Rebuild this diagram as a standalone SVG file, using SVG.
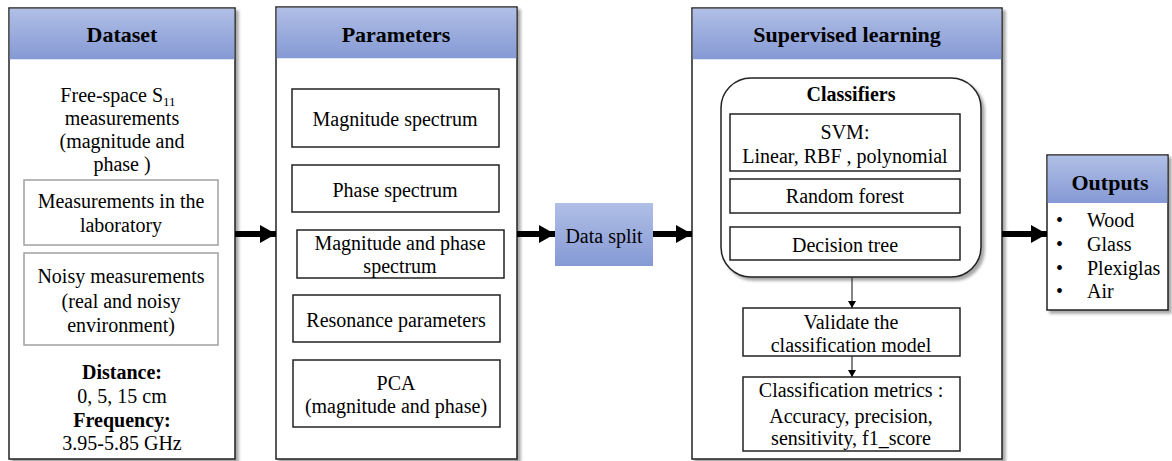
<svg xmlns="http://www.w3.org/2000/svg" width="1172" height="461" viewBox="0 0 1172 461">
<defs>
  <linearGradient id="hdr" x1="0" y1="0" x2="0" y2="1">
    <stop offset="0" stop-color="#b0bfe6"/>
    <stop offset="1" stop-color="#8599d4"/>
  </linearGradient>
  <filter id="sh" x="-5%" y="-5%" width="115%" height="115%">
    <feDropShadow dx="3" dy="3" stdDeviation="1.8" flood-color="#000" flood-opacity="0.35"/>
  </filter>
  <marker id="big" markerUnits="userSpaceOnUse" markerWidth="18" markerHeight="20" refX="16" refY="10" orient="auto">
    <path d="M0,1 L16,10 L0,19 Z" fill="#000"/>
  </marker>
  <marker id="small" markerUnits="userSpaceOnUse" markerWidth="8" markerHeight="8" refX="4" refY="7" orient="0">
    <path d="M0,0 L8,0 L4,7 Z" fill="#000"/>
  </marker>
</defs>
<style>
  text { font-family: "Liberation Serif", "Times New Roman", serif; fill: #000; }
  .t { font-size: 20px; text-anchor: middle; }
  .h { font-size: 22px; font-weight: bold; text-anchor: middle; }
  .b { font-size: 20px; font-weight: bold; text-anchor: middle; }
  .frame { fill: #fff; stroke: #222; stroke-width: 1.5; }
  .hd { fill: url(#hdr); }
  .gbox { fill: #fff; stroke: #a0a0a0; stroke-width: 1.5; }
  .kbox { fill: #fff; stroke: #222; stroke-width: 1.5; }
  .thick { stroke: #000; stroke-width: 6; fill: none; }
  .thin { stroke: #333; stroke-width: 1.2; fill: none; }
</style>

<g id="dataset">
  <rect class="frame" x="9" y="8" width="226" height="451" filter="url(#sh)"/>
  <rect class="hd" x="9.75" y="8.75" width="224.5" height="50.5"/>
  <text class="h" x="122" y="42">Dataset</text>
  <text class="t" x="118" y="102">Free-space S<tspan font-size="13" dy="4">11</tspan></text>
  <text class="t" x="122" y="125">measurements</text>
  <text class="t" x="122" y="148">(magnitude and</text>
  <text class="t" x="122" y="171">phase )</text>
  <rect class="gbox" x="24" y="180" width="194" height="65"/>
  <text class="t" x="121" y="208">Measurements in the</text>
  <text class="t" x="121" y="232">laboratory</text>
  <rect class="gbox" x="24" y="253" width="194" height="92"/>
  <text class="t" x="121" y="283">Noisy measurements</text>
  <text class="t" x="121" y="308">(real and noisy</text>
  <text class="t" x="121" y="332">environment)</text>
  <text class="b" x="122" y="379">Distance:</text>
  <text class="t" x="122" y="403">0, 5, 15 cm</text>
  <text class="b" x="122" y="427">Frequency:</text>
  <text class="t" x="122" y="450">3.95-5.85 GHz</text>
</g>

<g id="parameters">
  <rect class="frame" x="276" y="7" width="241" height="452" filter="url(#sh)"/>
  <rect class="hd" x="276.75" y="7.75" width="239.5" height="50.5"/>
  <text class="h" x="396" y="42">Parameters</text>
  <rect class="kbox" x="292" y="89" width="207" height="58"/>
  <text class="t" x="395" y="126">Magnitude spectrum</text>
  <rect class="kbox" x="292" y="165" width="207" height="47"/>
  <text class="t" x="395" y="197">Phase spectrum</text>
  <rect class="kbox" x="297" y="230" width="207" height="48"/>
  <text class="t" x="400" y="250">Magnitude and phase</text>
  <text class="t" x="400" y="273">spectrum</text>
  <rect class="kbox" x="293" y="295" width="207" height="47"/>
  <text class="t" x="396" y="327">Resonance parameters</text>
  <rect class="kbox" x="293" y="360" width="207" height="67"/>
  <text class="t" x="396" y="390">PCA</text>
  <text class="t" x="396" y="413">(magnitude and phase)</text>
</g>

<g id="datasplit">
  <rect x="555" y="203" width="98" height="63" fill="url(#hdr)"/>
  <text class="t" x="604" y="243">Data split</text>
</g>

<g id="supervised">
  <rect class="frame" x="692" y="8" width="310" height="451" filter="url(#sh)"/>
  <rect class="hd" x="692.75" y="8.75" width="308.5" height="50.5"/>
  <text class="h" x="847" y="42">Supervised  learning</text>
</g>

<g id="classifiers">
  <rect class="kbox" x="721" y="78" width="260" height="199" rx="30" ry="30" filter="url(#sh)"/>
  <text class="b" x="851" y="101">Classifiers</text>
</g>
<g id="svm">
  <rect class="kbox" x="730" y="114" width="230" height="57"/>
  <text class="t" x="845" y="139">SVM:</text>
  <text class="t" x="845" y="163">Linear, RBF , polynomial</text>
</g>
<g id="randomforest">
  <rect class="kbox" x="730" y="179" width="230" height="34"/>
  <text class="t" x="845" y="203">Random forest</text>
</g>
<g id="decisiontree">
  <rect class="kbox" x="730" y="227" width="230" height="33"/>
  <text class="t" x="845" y="252">Decision tree</text>
</g>
<g id="validate">
  <rect class="kbox" x="743" y="308" width="217" height="48"/>
  <text class="t" x="851" y="329">Validate the</text>
  <text class="t" x="851" y="352">classification model</text>
</g>
<g id="metrics">
  <rect class="kbox" x="743" y="377" width="217" height="74"/>
  <text class="t" x="851" y="397">Classification metrics :</text>
  <text class="t" x="851" y="423">Accuracy, precision,</text>
  <text class="t" x="851" y="445">sensitivity, f1_score</text>
</g>

<g id="outputs">
  <rect class="frame" x="1047" y="155" width="121" height="155" filter="url(#sh)"/>
  <rect class="hd" x="1047.75" y="155.75" width="119.5" height="47.25"/>
  <text class="h" x="1110" y="190">Outputs</text>
  <text font-size="20" x="1056" y="227">•</text>
  <text font-size="20" x="1087" y="227">Wood</text>
  <text font-size="20" x="1056" y="251">•</text>
  <text font-size="20" x="1087" y="251">Glass</text>
  <text font-size="20" x="1056" y="275">•</text>
  <text font-size="20" x="1087" y="275">Plexiglas</text>
  <text font-size="20" x="1056" y="298">•</text>
  <text font-size="20" x="1087" y="298">Air</text>
</g>

<g id="connectors">
  <path class="thick" d="M235,234 H276" marker-end="url(#big)"/>
  <path class="thick" d="M517,234 H555" marker-end="url(#big)"/>
  <path class="thick" d="M653,234 H692" marker-end="url(#big)"/>
  <path class="thick" d="M1002,234 H1047" marker-end="url(#big)"/>
  <path class="thin" d="M852,277 V308" marker-end="url(#small)"/>
  <path class="thin" d="M852,356 V377" marker-end="url(#small)"/>
</g>
</svg>
